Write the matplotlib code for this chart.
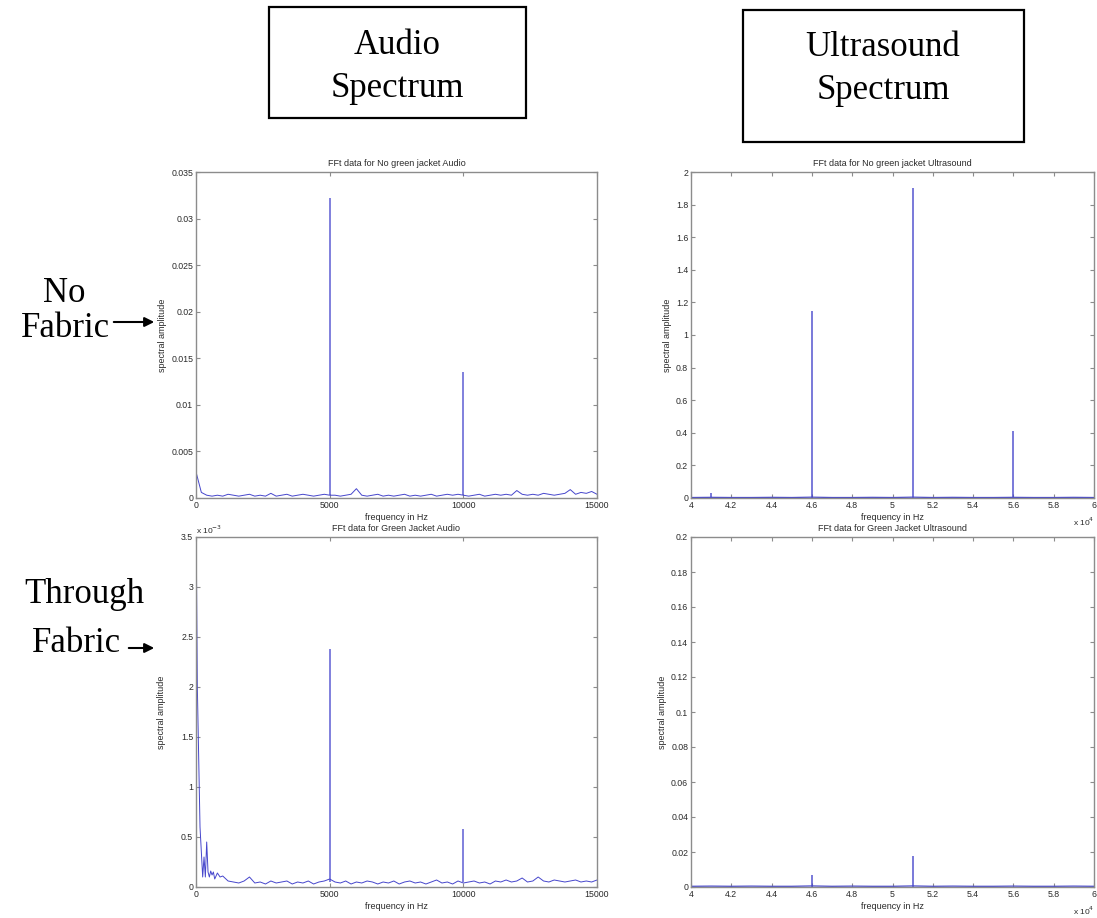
import matplotlib.pyplot as plt
import numpy as np
from matplotlib.patches import Rectangle, FancyArrowPatch
from matplotlib.ticker import FuncFormatter

# ---- data ----
# audio, no fabric: noise floor sampled every 200 Hz (amplitudes x 1e-4)
audio_grid = np.arange(0, 15001, 200)
audio_nofab_noise = [28, 6, 3, 2, 3, 2, 4, 3, 2, 3, 4, 2, 3, 2, 5, 2, 3, 4, 2, 3,
                     4, 3, 2, 3, 4, 3, 3, 2, 3, 4, 10, 3, 2, 3, 4, 2, 3, 2, 3, 4,
                     2, 3, 2, 3, 4, 2, 3, 4, 3, 4, 3, 2, 3, 4, 2, 3, 4, 3, 4, 3,
                     8, 4, 3, 4, 3, 5, 4, 3, 4, 5, 9, 4, 6, 5, 7, 4]
audio_nofab_peak_f = [5000, 10000]
audio_nofab_peak_a = [0.0322, 0.0135]

# audio, through fabric: low-frequency detail then 200 Hz grid (x 1e-4)
audio_fab_low_f = [0, 50, 100, 150, 200, 250, 300, 350, 400, 450, 500, 550, 600,
                   650, 700, 800, 900, 1000]
audio_fab_low_a = [38, 20, 13, 6, 3.5, 1.0, 3.0, 1.0, 4.5, 1.5, 1.0, 1.6, 1.2,
                   1.5, 0.8, 1.4, 1.0, 1.1]
audio_fab_grid = np.arange(1200, 15001, 200)
audio_fab_noise = [0.6, 0.5, 0.4, 0.6, 1.0, 0.4, 0.5, 0.3, 0.6, 0.4, 0.5, 0.6,
                   0.3, 0.5, 0.4, 0.6, 0.3, 0.5, 0.6, 0.8, 0.5, 0.4, 0.6, 0.3,
                   0.5, 0.4, 0.6, 0.5, 0.3, 0.5, 0.4, 0.6, 0.3, 0.5, 0.6, 0.4,
                   0.5, 0.3, 0.5, 0.7, 0.4, 0.5, 0.3, 0.6, 0.4, 0.5, 0.6, 0.4,
                   0.5, 0.3, 0.6, 0.5, 0.7, 0.5, 0.6, 0.9, 0.5, 0.6, 1.0, 0.6,
                   0.5, 0.7, 0.6, 0.5, 0.6, 0.7, 0.5, 0.6, 0.5, 0.7]
audio_fab_peak_f = [5000, 10000]
audio_fab_peak_a = [0.00238, 0.00058]

# ultrasound: floor on a 1 kHz grid, then peaks
us_grid = np.arange(40000, 60001, 1000)
us_nofab_noise = [0.003, 0.004, 0.003, 0.003, 0.004, 0.003, 0.005, 0.003, 0.003,
                  0.004, 0.003, 0.005, 0.003, 0.004, 0.003, 0.003, 0.004, 0.003,
                  0.003, 0.004, 0.003]
us_nofab_peak_f = [41000, 46000, 51000, 56000]
us_nofab_peak_a = [0.03, 1.15, 1.90, 0.41]
us_fab_noise = [0.0004, 0.0005, 0.0004, 0.0005, 0.0004, 0.0004, 0.0006, 0.0004,
                0.0005, 0.0004, 0.0004, 0.0006, 0.0004, 0.0005, 0.0004, 0.0004,
                0.0005, 0.0004, 0.0004, 0.0005, 0.0004]
us_fab_peak_f = [46000, 51000]
us_fab_peak_a = [0.0068, 0.018]

titles = ['FFt data for No green jacket Audio', 'FFt data for No green jacket Ultrasound',
          'FFt data for Green Jacket Audio', 'FFt data for Green Jacket Ultrasound']

plt.rcParams['font.family'] = ['Liberation Sans', 'DejaVu Sans']

W, H = 1097, 918
fig = plt.figure(figsize=(W / 100, H / 100), dpi=100)


def px(x0, y0, x1, y1):
    # pixel box -> figure fraction rect
    return [x0 / W, 1 - y1 / H, (x1 - x0) / W, (y1 - y0) / H]


line_col = '#4646cc'
grey = '#8c8c8c'
txt = '#2a2a2a'


def style(ax):
    for s in ax.spines.values():
        s.set_color(grey)
        s.set_linewidth(1.0)
    ax.tick_params(direction='in', length=3, width=0.8, colors=grey, labelcolor=txt,
                   labelsize=6.3, top=True, right=True, pad=2)
    ax.set_xlabel('frequency in Hz', fontsize=6.5, color=txt, labelpad=2)
    ax.set_ylabel('spectral amplitude', fontsize=6.5, color=txt, labelpad=3)


def offset_label(ax, s, xy, dy, ha, va):
    ax.annotate(s, xy=xy, xycoords='axes fraction', xytext=(0, dy),
                textcoords='offset points', fontsize=6, color=txt, ha=ha, va=va)


axes = [fig.add_axes(px(196, 172, 597, 498)), fig.add_axes(px(691, 172, 1094, 498)),
        fig.add_axes(px(196, 537, 597, 887)), fig.add_axes(px(691, 537, 1094, 887))]

# top-left
ax = axes[0]
ax.plot(audio_grid, np.array(audio_nofab_noise) * 1e-4, color=line_col, lw=0.7)
ax.vlines(audio_nofab_peak_f, 0.0003, audio_nofab_peak_a, color=line_col, lw=1.2, alpha=0.8)
ax.set_xlim(0, 15000)
ax.set_ylim(0, 0.035)
ax.set_xticks([0, 5000, 10000, 15000])
ax.set_yticks(np.arange(0, 0.0351, 0.005))
ax.yaxis.set_major_formatter(FuncFormatter(lambda v, p: '0' if v == 0 else f'{v:g}'))

# top-right
ax = axes[1]
ax.plot(us_grid, us_nofab_noise, color=line_col, lw=0.9)
ax.vlines(us_nofab_peak_f, 0, us_nofab_peak_a, color=line_col, lw=1.2, alpha=0.85)
ax.set_xlim(40000, 60000)
ax.set_ylim(0, 2)
ax.set_xticks(np.arange(40000, 60001, 2000))
ax.xaxis.set_major_formatter(FuncFormatter(lambda v, p: f'{v / 1e4:g}'))
ax.set_yticks(np.arange(0, 2.01, 0.2))
ax.yaxis.set_major_formatter(FuncFormatter(lambda v, p: f'{v:.1f}'.rstrip('0').rstrip('.') if v else '0'))
offset_label(ax, r'x 10$^{4}$', (1.0, 0.0), -17, 'right', 'center')

# bottom-left
ax = axes[2]
fab_f = np.concatenate([audio_fab_low_f, audio_fab_grid])
fab_a = np.concatenate([audio_fab_low_a, audio_fab_noise]) * 1e-4
ax.plot(fab_f, fab_a, color=line_col, lw=0.7)
ax.vlines(audio_fab_peak_f, 0.00005, audio_fab_peak_a, color=line_col, lw=1.2, alpha=0.8)
ax.set_xlim(0, 15000)
ax.set_ylim(0, 0.0035)
ax.set_xticks([0, 5000, 10000, 15000])
ax.set_yticks(np.arange(0, 0.00351, 0.0005))
ax.yaxis.set_major_formatter(FuncFormatter(lambda v, p: f'{v * 1e3:g}'))
offset_label(ax, r'x 10$^{-3}$', (0.0, 1.0), 1, 'left', 'bottom')

# bottom-right
ax = axes[3]
ax.plot(us_grid, us_fab_noise, color=line_col, lw=0.9)
ax.vlines(us_fab_peak_f, 0, us_fab_peak_a, color=line_col, lw=1.2, alpha=0.85)
ax.set_xlim(40000, 60000)
ax.set_ylim(0, 0.2)
ax.set_xticks(np.arange(40000, 60001, 2000))
ax.xaxis.set_major_formatter(FuncFormatter(lambda v, p: f'{v / 1e4:g}'))
ax.set_yticks(np.arange(0, 0.201, 0.02))
ax.yaxis.set_major_formatter(FuncFormatter(lambda v, p: f'{v:.2f}'.rstrip('0').rstrip('.') if v > 1e-9 else '0'))
offset_label(ax, r'x 10$^{4}$', (1.0, 0.0), -17, 'right', 'center')

for ax, t in zip(axes, titles):
    style(ax)
    ax.set_title(t, fontsize=6.5, color=txt, pad=4)
axes[2].yaxis.set_label_coords(-0.075, 0.5)

# header boxes
serif = ['Liberation Serif', 'DejaVu Serif']


def fig_text(x, y, s, size=25):
    fig.text(x / W, 1 - y / H, s, ha='center', va='baseline', fontsize=size, family=serif)


for (x0, y0, x1, y1) in [(269, 7, 526, 118), (743, 10, 1024, 142)]:
    r = px(x0, y0, x1, y1)
    fig.patches.append(Rectangle((r[0], r[1]), r[2], r[3], transform=fig.transFigure,
                                 fill=False, edgecolor='black', lw=1.6))
fig_text(397, 54, 'Audio')
fig_text(397, 97, 'Spectrum')
fig_text(883, 56, 'Ultrasound')
fig_text(883, 99, 'Spectrum')

# row labels with arrows
fig_text(64, 302, 'No')
fig_text(66, 337, 'Fabric')
fig_text(84, 603, 'Through')
fig_text(77, 652, 'Fabric')
for y, x0 in [(322, 111), (648, 126)]:
    fig.patches.append(FancyArrowPatch((x0 / W, 1 - y / H), (157 / W, 1 - y / H),
                                       transform=fig.transFigure, arrowstyle='-|>',
                                       mutation_scale=14, color='black', lw=1.5))

plt.savefig('out.png', dpi=100)
